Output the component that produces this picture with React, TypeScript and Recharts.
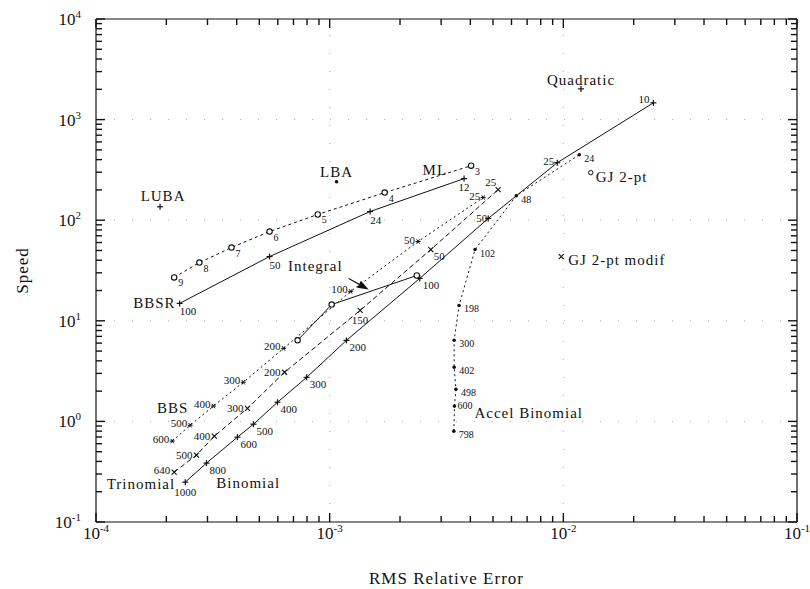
import React from 'react';
import { ScatterChart, Scatter, XAxis, YAxis, ReferenceLine, ReferenceDot } from 'recharts';

const FONT = "'Liberation Serif', 'DejaVu Serif', 'Times New Roman', serif";
const INK = '#111';

// axes
const X_MAJOR = [1e-4, 1e-3, 1e-2, 1e-1];
const X_EXP = ['-4', '-3', '-2', '-1'];
const Y_MAJOR = [1e-1, 1, 10, 100, 1000, 10000];
const Y_EXP = ['-1', '0', '1', '2', '3', '4'];

// Binomial (solid)
const binomialLabels = ['1000', '800', '600', '500', '400', '300', '200', '100', '50', '25', '10'];
const binomialErr = [2.41e-4, 2.97e-4, 4.03e-4, 4.72e-4, 5.98e-4, 7.97e-4, 1.18e-3, 2.43e-3, 4.77e-3, 9.42e-3, 2.43e-2];
const binomialSpeed = [0.249, 0.385, 0.697, 0.938, 1.55, 2.74, 6.39, 26.4, 104, 373, 1468];

// Trinomial (dashed)
const trinomialLabels = ['640', '500', '400', '300', '200', '150', '50', '25'];
const trinomialErr = [2.16e-4, 2.69e-4, 3.21e-4, 4.45e-4, 6.41e-4, 1.35e-3, 2.71e-3, 5.26e-3];
const trinomialSpeed = [0.313, 0.462, 0.713, 1.35, 3.08, 12.7, 51.1, 201];

// BBS (dotted)
const bbsLabels = ['600', '500', '400', '300', '200', '100', '50', '25'];
const bbsErr = [2.12e-4, 2.53e-4, 3.18e-4, 4.27e-4, 6.35e-4, 1.23e-3, 2.39e-3, 4.54e-3];
const bbsSpeed = [0.637, 0.916, 1.42, 2.45, 5.32, 19.6, 61.4, 168];

// Integral (solid, circles)
const integralLabels = ['', '', ''];
const integralErr = [7.29e-4, 1.02e-3, 2.36e-3];
const integralSpeed = [6.39, 14.5, 28.2];

// BBSR (solid)
const bbsrLabels = ['100', '50', '24', '12'];
const bbsrErr = [2.28e-4, 5.53e-4, 1.49e-3, 3.76e-3];
const bbsrSpeed = [14.9, 43.5, 122, 259];

// ML (dashed, sigma index)
const mlLabels = ['9', '8', '7', '6', '5', '4', '3'];
const mlErr = [2.16e-4, 2.77e-4, 3.8e-4, 5.53e-4, 8.89e-4, 1.72e-3, 4.03e-3];
const mlSpeed = [27.0, 37.9, 53.5, 77.1, 114, 188, 348];

// Accel Binomial (dotted)
const accelLabels = ['798', '600', '498', '402', '300', '198', '102', '48', '24'];
const accelErr = [3.4e-3, 3.42e-3, 3.47e-3, 3.41e-3, 3.41e-3, 3.58e-3, 4.19e-3, 6.29e-3, 1.17e-2];
const accelSpeed = [0.8, 1.42, 2.09, 3.45, 6.4, 14.2, 51.1, 175, 448];

// single methods
const singleNames = ['LUBA', 'LBA', 'Quadratic', 'GJ 2-pt', 'GJ 2-pt modif'];
const singleErr = [1.88e-4, 1.07e-3, 1.19e-2, 1.31e-2, 9.8e-3];
const singleSpeed = [136, 241, 2020, 297, 43.5];

type Pt = { x: number; y: number; label: string };
const toPts = (err: number[], speed: number[], labels: string[]): Pt[] =>
  err.map((x, i) => ({ x, y: speed[i], label: labels[i] }));

const minorsOf = (majors: number[]) => {
  const out: number[] = [];
  majors.forEach((m, i) => {
    if (i < majors.length - 1) for (let k = 2; k <= 9; k++) out.push(m * k);
  });
  return out;
};
const X_MINOR = minorsOf(X_MAJOR);
const Y_MINOR = minorsOf(Y_MAJOR);

type Side = 'left' | 'right' | 'top' | 'bottom';
const tickLine = (side: Side, x: number, y: number, len: number) => {
  const w = 1.4;
  if (side === 'left') return <line x1={x} y1={y} x2={x + len} y2={y} stroke={INK} strokeWidth={w} />;
  if (side === 'right') return <line x1={x} y1={y} x2={x - len} y2={y} stroke={INK} strokeWidth={w} />;
  if (side === 'top') return <line x1={x} y1={y} x2={x} y2={y + len} stroke={INK} strokeWidth={w} />;
  return <line x1={x} y1={y} x2={x} y2={y - len} stroke={INK} strokeWidth={w} />;
};

const makeTick = (side: Side, majors: number[], exps: string[]) => (props: any) => {
  const { x, y, payload } = props;
  const idx = majors.findIndex((m) => Math.abs(Math.log10(m) - Math.log10(payload.value)) < 1e-6);
  let label = null;
  if (idx >= 0 && (side === 'left' || side === 'bottom')) {
    const tx = side === 'left' ? x - 15 : x;
    const ty = side === 'left' ? y + 6 : y + 17;
    label = (
      <text x={tx} y={ty} textAnchor={side === 'left' ? 'end' : 'middle'} fontSize={17} fontFamily={FONT} fill={INK}>
        <tspan>10</tspan>
        <tspan dy={-7} fontSize={11}>{exps[idx]}</tspan>
      </text>
    );
  }
  return (
    <g>
      {tickLine(side, x, y, 9)}
      {label}
    </g>
  );
};

const minorShape = (side: Side) => (props: any) =>
  props.cx == null ? <g /> : tickLine(side, props.cx, props.cy, 6);

type Mark = 'plus' | 'cross' | 'star' | 'dot' | 'circle' | 'smallCircle';
const drawMark = (kind: Mark, cx: number, cy: number) => {
  switch (kind) {
    case 'plus':
      return (
        <g stroke={INK} strokeWidth={1.2}>
          <line x1={cx - 3} y1={cy} x2={cx + 3} y2={cy} />
          <line x1={cx} y1={cy - 3} x2={cx} y2={cy + 3} />
        </g>
      );
    case 'cross':
      return (
        <g stroke={INK} strokeWidth={1.1}>
          <line x1={cx - 2.5} y1={cy - 2.5} x2={cx + 2.5} y2={cy + 2.5} />
          <line x1={cx - 2.5} y1={cy + 2.5} x2={cx + 2.5} y2={cy - 2.5} />
        </g>
      );
    case 'star':
      return (
        <g stroke={INK} strokeWidth={1}>
          <line x1={cx - 2.5} y1={cy} x2={cx + 2.5} y2={cy} />
          <line x1={cx - 1.5} y1={cy - 2.2} x2={cx + 1.5} y2={cy + 2.2} />
          <line x1={cx - 1.5} y1={cy + 2.2} x2={cx + 1.5} y2={cy - 2.2} />
        </g>
      );
    case 'dot':
      return <circle cx={cx} cy={cy} r={1.8} fill={INK} />;
    case 'circle':
      return <circle cx={cx} cy={cy} r={2.7} fill="#fff" stroke={INK} strokeWidth={1.1} />;
    default:
      return <circle cx={cx} cy={cy} r={2.2} fill="none" stroke={INK} strokeWidth={1} />;
  }
};

type Anchor = 'start' | 'middle' | 'end';
type Place = { dx: number; dy: number; anchor: Anchor };
type NameTag = { at: number; text: string; dx: number; dy: number; anchor: Anchor; arrow?: boolean };
type SeriesStyle = {
  mark: Mark;
  place: Place;
  fontSize: number;
  overrides?: Record<string, Place>;
  name?: NameTag;
};

const arrow = (cx: number, cy: number) => {
  const sx = cx + 17, sy = cy - 26, tx = cx + 37, ty = cy - 15;
  const len = Math.hypot(tx - sx, ty - sy);
  const ux = (tx - sx) / len, uy = (ty - sy) / len;
  const bx = tx - 11 * ux, by = ty - 11 * uy;
  const px = -uy, py = ux;
  return (
    <g>
      <line x1={sx} y1={sy} x2={bx} y2={by} stroke={INK} strokeWidth={1.2} />
      <polygon points={`${tx},${ty} ${bx + 4 * px},${by + 4 * py} ${bx - 4 * px},${by - 4 * py}`} fill={INK} />
    </g>
  );
};

const makeShape = (st: SeriesStyle) => (props: any) => {
  const { cx, cy, payload, index } = props;
  if (cx == null || cy == null) return <g />;
  const p = (st.overrides && st.overrides[payload.label]) || st.place;
  const name = st.name && st.name.at === index ? st.name : null;
  return (
    <g>
      {drawMark(st.mark, cx, cy)}
      {payload.label ? (
        <text x={cx + p.dx} y={cy + p.dy} textAnchor={p.anchor} fontSize={st.fontSize} fontFamily={FONT} fill={INK}>
          {payload.label}
        </text>
      ) : null}
      {name ? (
        <text x={cx + name.dx} y={cy + name.dy} textAnchor={name.anchor} fontSize={15} letterSpacing={1} fontFamily={FONT} fill={INK}>
          {name.text}
        </text>
      ) : null}
      {name && name.arrow ? arrow(cx, cy) : null}
    </g>
  );
};

const singleMarks: Record<string, Mark> = {
  LUBA: 'plus',
  LBA: 'dot',
  Quadratic: 'plus',
  'GJ 2-pt': 'smallCircle',
  'GJ 2-pt modif': 'cross',
};
const singlePlace: Record<string, Place> = {
  LUBA: { dx: 3, dy: -6, anchor: 'middle' },
  LBA: { dx: 0, dy: -5, anchor: 'middle' },
  Quadratic: { dx: 0, dy: -4, anchor: 'middle' },
  'GJ 2-pt': { dx: 5, dy: 9, anchor: 'start' },
  'GJ 2-pt modif': { dx: 7, dy: 8, anchor: 'start' },
};
const singleShape = (props: any) => {
  const { cx, cy, payload } = props;
  if (cx == null || cy == null) return <g />;
  const p = singlePlace[payload.label];
  return (
    <g>
      {drawMark(singleMarks[payload.label], cx, cy)}
      <text x={cx + p.dx} y={cy + p.dy} textAnchor={p.anchor} fontSize={15} letterSpacing={1} fontFamily={FONT} fill={INK}>
        {payload.label}
      </text>
    </g>
  );
};

const SERIES = [
  {
    key: 'binomial',
    data: toPts(binomialErr, binomialSpeed, binomialLabels),
    dash: undefined,
    style: {
      mark: 'plus',
      fontSize: 11,
      place: { dx: 3, dy: 11, anchor: 'start' },
      overrides: {
        '1000': { dx: 0, dy: 14, anchor: 'middle' },
        '50': { dx: -1, dy: 4, anchor: 'end' },
        '25': { dx: -3, dy: 2, anchor: 'end' },
        '10': { dx: -4, dy: 0, anchor: 'end' },
      },
      name: { at: 0, text: 'Binomial', dx: 31, dy: 6, anchor: 'start' },
    } as SeriesStyle,
  },
  {
    key: 'trinomial',
    data: toPts(trinomialErr, trinomialSpeed, trinomialLabels),
    dash: '5 3',
    style: {
      mark: 'cross',
      fontSize: 11,
      place: { dx: -4, dy: 4, anchor: 'end' },
      overrides: {
        '640': { dx: -4, dy: 2, anchor: 'end' },
        '150': { dx: 0, dy: 14, anchor: 'middle' },
        '50': { dx: 3, dy: 10, anchor: 'start' },
        '25': { dx: -2, dy: -4, anchor: 'end' },
      },
      name: { at: 0, text: 'Trinomial', dx: 1, dy: 17, anchor: 'end' },
    } as SeriesStyle,
  },
  {
    key: 'bbs',
    data: toPts(bbsErr, bbsSpeed, bbsLabels),
    dash: '2 3',
    style: {
      mark: 'star',
      fontSize: 11,
      place: { dx: -3, dy: 2, anchor: 'end' },
      name: { at: 2, text: 'BBS', dx: -25, dy: 7, anchor: 'end' },
    } as SeriesStyle,
  },
  {
    key: 'integral',
    data: toPts(integralErr, integralSpeed, integralLabels),
    dash: undefined,
    style: {
      mark: 'circle',
      fontSize: 11,
      place: { dx: 0, dy: 0, anchor: 'start' },
      name: { at: 1, text: 'Integral', dx: 11, dy: -34, anchor: 'end', arrow: true },
    } as SeriesStyle,
  },
  {
    key: 'bbsr',
    data: toPts(bbsrErr, bbsrSpeed, bbsrLabels),
    dash: undefined,
    style: {
      mark: 'plus',
      fontSize: 11,
      place: { dx: 0, dy: 12, anchor: 'start' },
      overrides: { '12': { dx: 0, dy: 12, anchor: 'middle' } },
      name: { at: 0, text: 'BBSR', dx: -4, dy: 5, anchor: 'end' },
    } as SeriesStyle,
  },
  {
    key: 'ml',
    data: toPts(mlErr, mlSpeed, mlLabels),
    dash: '3 3',
    style: {
      mark: 'circle',
      fontSize: 10,
      place: { dx: 4, dy: 9, anchor: 'start' },
      name: { at: 6, text: 'ML', dx: -24, dy: 9, anchor: 'end' },
    } as SeriesStyle,
  },
  {
    key: 'accel',
    data: toPts(accelErr, accelSpeed, accelLabels),
    dash: '2 3',
    style: {
      mark: 'dot',
      fontSize: 10,
      place: { dx: 5, dy: 7, anchor: 'start' },
      overrides: { '600': { dx: 3, dy: 3, anchor: 'start' } },
      name: { at: 1, text: 'Accel Binomial', dx: 20, dy: 12, anchor: 'start' },
    } as SeriesStyle,
  },
];

const singles = singleErr.map((x, i) => ({ x, y: singleSpeed[i], label: singleNames[i] }));

const X_DOMAIN: [number, number] = [1e-4, 1e-1];
const Y_DOMAIN: [number, number] = [1e-1, 1e4];

const axisCommon = {
  type: 'number' as const,
  scale: 'log' as const,
  allowDataOverflow: true,
  interval: 0,
  tickSize: 0,
  tickMargin: 0,
  tickLine: false,
  axisLine: { stroke: INK, strokeWidth: 1.2 },
};

export default function App() {
  return (
    <div style={{ width: 810, height: 589, background: '#fff' }}>
      <style>{'body{margin:0;background:#fff}'}</style>
      <ScatterChart width={810} height={589} margin={{ top: 18, right: 12, bottom: 0, left: 0 }}>
        <XAxis
          {...axisCommon}
          xAxisId="b"
          dataKey="x"
          domain={X_DOMAIN}
          ticks={X_MAJOR}
          height={67}
          tick={makeTick('bottom', X_MAJOR, X_EXP)}
          label={{ value: 'RMS Relative Error', position: 'insideBottom', offset: 5, fill: INK, fontSize: 17, fontFamily: FONT, letterSpacing: 1 }}
        />
        <XAxis
          {...axisCommon}
          xAxisId="t"
          orientation="top"
          dataKey="x"
          domain={X_DOMAIN}
          ticks={X_MAJOR}
          height={1}
          tick={makeTick('top', X_MAJOR, X_EXP)}
        />
        <YAxis
          {...axisCommon}
          yAxisId="l"
          dataKey="y"
          domain={Y_DOMAIN}
          ticks={Y_MAJOR}
          width={96}
          tick={makeTick('left', Y_MAJOR, Y_EXP)}
          label={{ value: 'Speed', angle: -90, position: 'insideLeft', offset: 22, fill: INK, fontSize: 17, fontFamily: FONT, letterSpacing: 1, style: { textAnchor: 'middle' } }}
        />
        <YAxis
          {...axisCommon}
          yAxisId="r"
          orientation="right"
          dataKey="y"
          domain={Y_DOMAIN}
          ticks={Y_MAJOR}
          width={1}
          tick={makeTick('right', Y_MAJOR, Y_EXP)}
        />
        {[1e-3, 1e-2].map((v) => (
          <ReferenceLine key={`gx${v}`} x={v} xAxisId="b" yAxisId="l" stroke="#aaa" strokeDasharray="1 17" />
        ))}
        {[1, 10, 100, 1000].map((v) => (
          <ReferenceLine key={`gy${v}`} y={v} xAxisId="b" yAxisId="l" stroke="#aaa" strokeDasharray="1 17" />
        ))}
        {X_MINOR.map((v) => (
          <ReferenceDot key={`mb${v}`} x={v} y={Y_DOMAIN[0]} xAxisId="b" yAxisId="l" ifOverflow="visible" shape={minorShape('bottom')} />
        ))}
        {X_MINOR.map((v) => (
          <ReferenceDot key={`mt${v}`} x={v} y={Y_DOMAIN[1]} xAxisId="b" yAxisId="l" ifOverflow="visible" shape={minorShape('top')} />
        ))}
        {Y_MINOR.map((v) => (
          <ReferenceDot key={`ml${v}`} x={X_DOMAIN[0]} y={v} xAxisId="b" yAxisId="l" ifOverflow="visible" shape={minorShape('left')} />
        ))}
        {Y_MINOR.map((v) => (
          <ReferenceDot key={`mr${v}`} x={X_DOMAIN[1]} y={v} xAxisId="b" yAxisId="l" ifOverflow="visible" shape={minorShape('right')} />
        ))}
        {SERIES.map((s) => (
          <Scatter
            key={s.key}
            name={s.key}
            data={s.data}
            xAxisId="b"
            yAxisId="l"
            line={{ stroke: INK, strokeWidth: 1, strokeDasharray: s.dash }}
            lineType="joint"
            shape={makeShape(s.style)}
            isAnimationActive={false}
          />
        ))}
        <Scatter name="single" data={singles} xAxisId="t" yAxisId="r" shape={singleShape} isAnimationActive={false} />
      </ScatterChart>
    </div>
  );
}
